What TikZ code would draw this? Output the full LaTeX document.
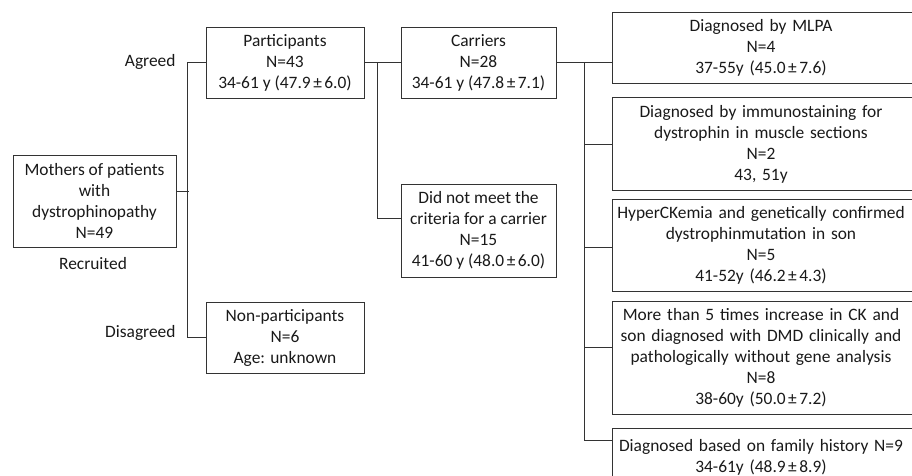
\documentclass[tikz,border=0pt]{standalone}
\usepackage{fontspec}
\setmainfont{Carlito}
\usetikzlibrary{positioning}
\newcommand{\plusmn}{\kern2.5pt±\kern2.5pt}

\begin{document}
\begin{tikzpicture}[x=1pt, y=-1pt, line width=1pt, color=black!80,
    every node/.style={font=\fontsize{17.4}{21}\selectfont, text=black!90, align=center, inner sep=0pt},
    box/.style={draw=black!80, minimum width=#1},
    rbox/.style={text width=296pt}]

    \path[use as bounding box, clip] (0,0) rectangle (912,475);

    % first column
    \node[box=163, minimum height=92] (mothers) at (94.5,201) {Mothers of patients\\with\\dystrophinopathy\\N=49};
    \node (recruited) at (93,264) {Recruited};
    \node[anchor=east] (agreed) at (176,62) {Agreed};
    \node[anchor=east] (disagreed) at (176,333) {Disagreed};

    % second and third column
    \node[box=158, minimum height=71] (part) at (285,62.5) {Participants\\N=43\\34-61 y (47.9\plusmn6.0)};
    \node[box=158, minimum height=71] (nonpart) at (285,337.5) {Non-participants\\N=6\\Age: unknown};
    \node[box=155, minimum height=71] (carr) at (478.5,62.5) {Carriers\\N=28\\34-61 y (47.8\plusmn7.1)};
    \node[box=155, minimum height=93] (didnot) at (478.5,230.5) {Did not meet the\\criteria for a carrier\\N=15\\41-60 y (48.0\plusmn6.0)};

    % carrier groups
    \node[rbox, minimum height=70] (mlpa) at (761,48) {Diagnosed by MLPA\\N=4\\37-55y (45.0\plusmn7.6)};
    \node[rbox, minimum height=92] (immu) at (761,144) {Diagnosed by immunostaining for\\dystrophin in muscle sections\\N=2\\43, 51y};
    \node[rbox, minimum height=91] (hyper) at (761,245.5) {HyperCKemia and genetically confirmed\\dystrophinmutation in son\\N=5\\41-52y (46.2\plusmn4.3)};
    \node[rbox, minimum height=112] (more) at (761,358) {More than 5 times increase in CK and\\son diagnosed with DMD clinically and\\pathologically without gene analysis\\N=8\\38-60y (50.0\plusmn7.2)};
    \node[rbox, minimum height=56] (fam) at (761,457) {Diagnosed based on family history N=9\\34-61y (48.9\plusmn8.9)};

    \foreach \nm in {mlpa, immu, hyper, more}
    \draw ([xshift=20pt]\nm.north east) -| (\nm.south west) -- ([xshift=20pt]\nm.south east);
    \draw ([xshift=20pt]fam.north east) -| ([yshift=-20pt]fam.south west);

    % connectors
    \draw ([yshift=10pt]mothers.east) -- ++(12,0);
    \draw (part.west) -- ++(-18,0) |- (nonpart.west);
    \draw (part.east) -- (carr.west);
    \draw (part.east) ++(13,0) |- ([yshift=12.5pt]didnot.west);
    \draw (carr.east) -- (carr.east -| mlpa.west);
    \draw (carr.east) ++(28,0) |- ([yshift=17pt]fam.west);
    \foreach \nm / \dy in {immu/0, hyper/-1.5, more/11}
    \draw ([yshift=\dy pt]\nm.west) -- ++(-28,0);

\end{tikzpicture}
\end{document}
